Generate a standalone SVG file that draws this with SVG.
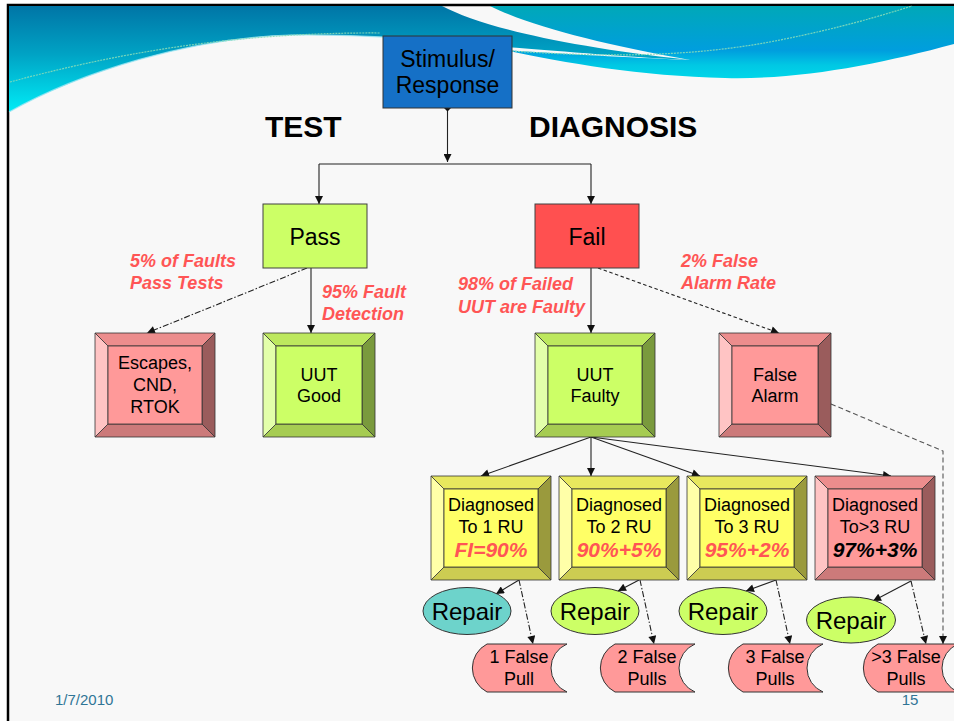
<svg xmlns="http://www.w3.org/2000/svg" width="954" height="721" viewBox="0 0 954 721">
<defs>
<style>
text{font-family:"Liberation Sans",Arial,sans-serif}
.n{font-size:18px;text-anchor:middle;fill:#000}
.m{font-size:23px;text-anchor:middle;fill:#000}
.rp{font-size:24px;text-anchor:middle;fill:#000}
.big{font-size:30px;font-weight:bold;fill:#000}
.lbl{font-size:18px;font-weight:bold;font-style:italic;fill:#ff5555}
.pct{font-size:21px;font-weight:bold;font-style:italic;text-anchor:middle;fill:#ff5555}
.ft{font-size:15px;fill:#2f7596}
.bv{stroke:#333;stroke-width:0.8;stroke-linejoin:round}
.gC{fill:#ccff66}.gT{fill:#bde85e}.gL{fill:#e3ffaa}.gR{fill:#7a9a3d}.gB{fill:#a6cc52}
.pC{fill:#ff9999}.pT{fill:#ec8d8d}.pL{fill:#ffc4c4}.pR{fill:#9a5c5c}.pB{fill:#cc7a7a}
.yC{fill:#ffff66}.yT{fill:#e8e85e}.yL{fill:#ffffa8}.yR{fill:#9a9a3d}.yB{fill:#cccc52}
.c{fill:none;stroke:#222;stroke-width:1.1}
.dd{stroke-dasharray:6 2 1.5 2}
.ds{stroke-dasharray:3.5 2.5}
.dg{stroke:#555;stroke-dasharray:5 3}
</style>
<marker id="ah" viewBox="0 0 10 10" refX="10" refY="5" markerUnits="userSpaceOnUse" markerWidth="9" markerHeight="8" orient="auto">
<path d="M0,0 L10,5 L0,10 Z" fill="#111"/>
</marker>
<marker id="dm" viewBox="0 0 10 10" refX="5" refY="5" markerUnits="userSpaceOnUse" markerWidth="7" markerHeight="7" orient="auto">
<path d="M0,5 L5,0 L10,5 L5,10 Z" fill="#111"/>
</marker>
<linearGradient id="gl" x1="0" y1="6" x2="0" y2="112" gradientUnits="userSpaceOnUse">
<stop offset="0" stop-color="#0075a6"/>
<stop offset="0.45" stop-color="#00a2c4"/>
<stop offset="1" stop-color="#00ecf6"/>
</linearGradient>
<linearGradient id="gr" x1="0" y1="6" x2="0" y2="80" gradientUnits="userSpaceOnUse">
<stop offset="0" stop-color="#00a8b8"/>
<stop offset="0.6" stop-color="#009ede"/>
<stop offset="0.8" stop-color="#00c8e4"/>
<stop offset="1" stop-color="#00d8ea"/>
</linearGradient>
</defs>

<rect x="0" y="0" width="954" height="721" fill="#ffffff"/>
<rect x="8" y="5" width="960" height="730" fill="#f8f8f8" stroke="#000" stroke-width="2.5"/>

<g id="header">
<path d="M490,6 L954,6 L954,44 C880,64 800,80 725,78 C640,76 560,62 505,50 C580,55 640,58 690,60 C600,44 530,26 490,6 Z" fill="url(#gr)"/>
<path d="M9,6 L442,6 C480,26 560,46 690,60 C610,56 550,50 505,47 C440,40 370,34 290,35 C190,38 80,72 9,112 Z" fill="url(#gl)"/>
<path d="M9,112 C80,72 190,38 290,35 C370,34 440,40 505,47" fill="none" stroke="#9fe6f2" stroke-width="1.2" opacity="0.8"/>
<path d="M10,82 C110,55 230,32 380,33" fill="none" stroke="#86dcb8" stroke-width="1.2" stroke-dasharray="2 1" opacity="0.9"/>
<path d="M512,51 C600,57 690,58 780,40 C840,28 880,16 912,6" fill="none" stroke="#86dcb8" stroke-width="1.2" stroke-dasharray="2 1" opacity="0.9"/>
</g>

<g id="connectors">
<path class="c" d="M447.5,108 V162" marker-start="url(#dm)" marker-end="url(#ah)"/>
<path class="c" d="M319,164 H591"/>
<path class="c" d="M319,164 V204" marker-end="url(#ah)"/>
<path class="c" d="M591,164 V204" marker-end="url(#ah)"/>
<path class="c" d="M311,268 V333" marker-end="url(#ah)"/>
<path class="c dd" d="M307,268 L147,333" marker-end="url(#ah)"/>
<path class="c" d="M591,268 V333" marker-end="url(#ah)"/>
<path class="c ds" d="M598,268 L779,333" marker-end="url(#ah)"/>
<path class="c" d="M591,437 L481,476" marker-end="url(#ah)"/>
<path class="c" d="M591,437 V476" marker-end="url(#ah)"/>
<path class="c" d="M591,437 L700,476" marker-end="url(#ah)"/>
<path class="c" d="M591,437 L891,476" marker-end="url(#ah)"/>
<path class="c dg" d="M831,404 L943,451 V644" marker-end="url(#ah)"/>
<path class="c" d="M519,580 L496,594" marker-end="url(#ah)"/>
<path class="c dd" d="M519,580 L533,644" marker-end="url(#ah)"/>
<path class="c" d="M639,580 L618,591" marker-end="url(#ah)"/>
<path class="c dd" d="M640,580 L654,644" marker-end="url(#ah)"/>
<path class="c" d="M776,580 L746,591" marker-end="url(#ah)"/>
<path class="c dd" d="M776,580 L790,644" marker-end="url(#ah)"/>
<path class="c" d="M911,581 L873,601" marker-end="url(#ah)"/>
<path class="c dd" d="M911,581 L926,644" marker-end="url(#ah)"/>
</g>

<g id="stimulus">
<rect x="383" y="36" width="129" height="72" fill="#1570c6" stroke="#333" stroke-width="1"/>
<text class="m" x="447.5" y="67">Stimulus/</text>
<text class="m" x="447.5" y="93">Response</text>
</g>

<g id="labels">
<text class="big" x="265" y="137">TEST</text>
<text class="big" x="529" y="137">DIAGNOSIS</text>
<text class="lbl" x="130" y="267">5% of Faults</text>
<text class="lbl" x="130" y="289">Pass Tests</text>
<text class="lbl" x="322" y="298">95% Fault</text>
<text class="lbl" x="322" y="320">Detection</text>
<text class="lbl" x="458" y="290">98% of Failed</text>
<text class="lbl" x="458" y="313">UUT are Faulty</text>
<text class="lbl" x="681" y="267">2% False</text>
<text class="lbl" x="681" y="289">Alarm Rate</text>
</g>

<g id="pass">
<rect x="263" y="204" width="104" height="64" fill="#ccff66" stroke="#404040" stroke-width="1"/>
<text class="m" x="315" y="245">Pass</text>
</g>
<g id="fail">
<rect x="535" y="204" width="104" height="64" fill="#ff5050" stroke="#404040" stroke-width="1"/>
<text class="m" x="587" y="245">Fail</text>
</g>

<g id="escapes">
<polygon class="bv pT" points="95,333 215,333 202,346 108,346"/>
<polygon class="bv pR" points="215,333 215,437 202,424 202,346"/>
<polygon class="bv pB" points="215,437 95,437 108,424 202,424"/>
<polygon class="bv pL" points="95,437 95,333 108,346 108,424"/>
<rect class="bv pC" x="108" y="346" width="94" height="78"/>
<text class="n" x="155" y="369">Escapes,</text>
<text class="n" x="155" y="391">CND,</text>
<text class="n" x="155" y="413">RTOK</text>
</g>

<g id="uut-good">
<polygon class="bv gT" points="263,333 375,333 362,346 276,346"/>
<polygon class="bv gR" points="375,333 375,437 362,424 362,346"/>
<polygon class="bv gB" points="375,437 263,437 276,424 362,424"/>
<polygon class="bv gL" points="263,437 263,333 276,346 276,424"/>
<rect class="bv gC" x="276" y="346" width="86" height="78"/>
<text class="n" x="319" y="381">UUT</text>
<text class="n" x="319" y="402">Good</text>
</g>

<g id="uut-faulty">
<polygon class="bv gT" points="535,333 655,333 642,346 548,346"/>
<polygon class="bv gR" points="655,333 655,437 642,424 642,346"/>
<polygon class="bv gB" points="655,437 535,437 548,424 642,424"/>
<polygon class="bv gL" points="535,437 535,333 548,346 548,424"/>
<rect class="bv gC" x="548" y="346" width="94" height="78"/>
<text class="n" x="595" y="381">UUT</text>
<text class="n" x="595" y="402">Faulty</text>
</g>

<g id="false-alarm">
<polygon class="bv pT" points="719,333 831,333 818,346 732,346"/>
<polygon class="bv pR" points="831,333 831,437 818,424 818,346"/>
<polygon class="bv pB" points="831,437 719,437 732,424 818,424"/>
<polygon class="bv pL" points="719,437 719,333 732,346 732,424"/>
<rect class="bv pC" x="732" y="346" width="86" height="78"/>
<text class="n" x="775" y="381">False</text>
<text class="n" x="775" y="402">Alarm</text>
</g>

<g id="diag1">
<polygon class="bv yT" points="431,476 551,476 538,489 444,489"/>
<polygon class="bv yR" points="551,476 551,580 538,567 538,489"/>
<polygon class="bv yB" points="551,580 431,580 444,567 538,567"/>
<polygon class="bv yL" points="431,580 431,476 444,489 444,567"/>
<rect class="bv yC" x="444" y="489" width="94" height="78"/>
<text class="n" x="491" y="511">Diagnosed</text>
<text class="n" x="491" y="533">To 1 RU</text>
<text class="pct" x="491" y="557">FI=90%</text>
</g>

<g id="diag2">
<polygon class="bv yT" points="559,476 679,476 666,489 572,489"/>
<polygon class="bv yR" points="679,476 679,580 666,567 666,489"/>
<polygon class="bv yB" points="679,580 559,580 572,567 666,567"/>
<polygon class="bv yL" points="559,580 559,476 572,489 572,567"/>
<rect class="bv yC" x="572" y="489" width="94" height="78"/>
<text class="n" x="619" y="511">Diagnosed</text>
<text class="n" x="619" y="533">To 2 RU</text>
<text class="pct" x="619" y="557">90%+5%</text>
</g>

<g id="diag3">
<polygon class="bv yT" points="687,476 807,476 794,489 700,489"/>
<polygon class="bv yR" points="807,476 807,580 794,567 794,489"/>
<polygon class="bv yB" points="807,580 687,580 700,567 794,567"/>
<polygon class="bv yL" points="687,580 687,476 700,489 700,567"/>
<rect class="bv yC" x="700" y="489" width="94" height="78"/>
<text class="n" x="747" y="511">Diagnosed</text>
<text class="n" x="747" y="533">To 3 RU</text>
<text class="pct" x="747" y="557">95%+2%</text>
</g>

<g id="diag4">
<polygon class="bv pT" points="815,476 935,476 922,489 828,489"/>
<polygon class="bv pR" points="935,476 935,580 922,567 922,489"/>
<polygon class="bv pB" points="935,580 815,580 828,567 922,567"/>
<polygon class="bv pL" points="815,580 815,476 828,489 828,567"/>
<rect class="bv pC" x="828" y="489" width="94" height="78"/>
<text class="n" x="875" y="511">Diagnosed</text>
<text class="n" x="875" y="533">To&gt;3 RU</text>
<text class="pct" x="875" y="557" style="fill:#000">97%+3%</text>
</g>

<g id="repair1">
<ellipse cx="467" cy="611" rx="44" ry="23.5" fill="#6dd3cb" stroke="#333" stroke-width="1"/>
<text class="rp" x="467" y="620">Repair</text>
</g>
<g id="repair2">
<ellipse cx="595" cy="611" rx="44" ry="23.5" fill="#ccff66" stroke="#333" stroke-width="1"/>
<text class="rp" x="595" y="620">Repair</text>
</g>
<g id="repair3">
<ellipse cx="723" cy="611" rx="44" ry="23.5" fill="#ccff66" stroke="#333" stroke-width="1"/>
<text class="rp" x="723" y="620">Repair</text>
</g>
<g id="repair4">
<ellipse cx="851" cy="620" rx="44.5" ry="23" fill="#ccff66" stroke="#333" stroke-width="1"/>
<text class="rp" x="851" y="629">Repair</text>
</g>

<g id="pull1">
<path d="M487,644 H567 A26,26 0 0,0 567,692 H487 A27,27 0 0,1 487,644 Z" fill="#ff9999" stroke="#333" stroke-width="1"/>
<text class="n" x="519" y="663">1 False</text>
<text class="n" x="519" y="685">Pull</text>
</g>
<g id="pull2">
<path d="M615,644 H695 A26,26 0 0,0 695,692 H615 A27,27 0 0,1 615,644 Z" fill="#ff9999" stroke="#333" stroke-width="1"/>
<text class="n" x="647" y="663">2 False</text>
<text class="n" x="647" y="685">Pulls</text>
</g>
<g id="pull3">
<path d="M743,644 H823 A26,26 0 0,0 823,692 H743 A27,27 0 0,1 743,644 Z" fill="#ff9999" stroke="#333" stroke-width="1"/>
<text class="n" x="775" y="663">3 False</text>
<text class="n" x="775" y="685">Pulls</text>
</g>
<g id="pull4">
<path d="M878,644 H958 A26,26 0 0,0 958,692 H878 A27,27 0 0,1 878,644 Z" fill="#ff9999" stroke="#333" stroke-width="1"/>
<text class="n" x="906" y="663">&gt;3 False</text>
<text class="n" x="906" y="685">Pulls</text>
</g>

<g id="footer">
<text class="ft" x="55" y="705">1/7/2010</text>
<text class="ft" x="910" y="705" text-anchor="middle">15</text>
</g>
</svg>
